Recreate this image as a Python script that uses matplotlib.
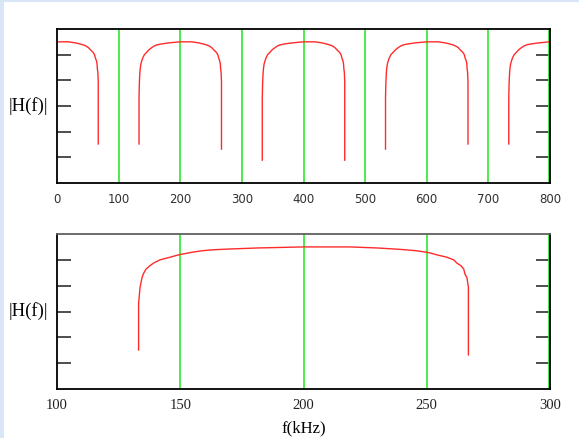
import matplotlib
matplotlib.use("Agg")
import matplotlib.pyplot as plt
import matplotlib.transforms as mtransforms
from matplotlib.patches import Rectangle

# ---------------------------------------------------------------------------
# Data
# ---------------------------------------------------------------------------
# zoomed passband around 200 kHz (bottom panel)
f_band = [133.1, 133.1, 133.7, 134.5, 135.0, 136.1, 137.7, 139.1, 141.8, 145.8,
          149.2, 154.0, 158.7, 163.3, 170.2, 181.7, 200.0, 218.6, 229.8, 236.7,
          241.3, 246.0, 250.8, 254.2, 258.2, 260.9, 262.3, 263.9, 265.0, 265.5,
          266.3, 266.9, 266.9]
h_band = [1.51, 3.32, 3.94, 4.31, 4.45, 4.64, 4.77, 4.87, 5.00, 5.10,
          5.19, 5.28, 5.35, 5.39, 5.42, 5.46, 5.50, 5.50, 5.46, 5.42,
          5.39, 5.35, 5.28, 5.19, 5.10, 5.00, 4.87, 4.77, 4.64, 4.45,
          4.31, 3.94, 1.32]

# wide view: passbands repeat every 200 kHz, notch depths differ per edge
band_centers = [0, 200, 400, 600, 800]
band_left_end = [1.52, 1.52, 0.89, 1.32, 1.52]
band_right_end = [1.52, 1.32, 0.89, 1.52, 1.52]

top_xticks = [0, 100, 200, 300, 400, 500, 600, 700, 800]
top_grid = [100, 200, 300, 400, 500, 600, 700, 800]
bot_xticks = [100, 150, 200, 250, 300]
bot_grid = [150, 200, 250, 300]
y_ticks = [1, 2, 3, 4, 5]

RED = "#ff2b2b"
GREEN = "#2ee82e"

fig = plt.figure(figsize=(5.79, 4.38), dpi=100)
fig.patch.set_facecolor("white")
# light blue window edge (left and top)
fig.patches.append(Rectangle((0, 0), 4 / 579, 1, transform=fig.transFigure,
                             facecolor="#d9e6f7", edgecolor="none", zorder=0))
fig.patches.append(Rectangle((0, 1 - 2 / 438), 1, 2 / 438, transform=fig.transFigure,
                             facecolor="#d9e6f7", edgecolor="none", zorder=0))

ax1 = fig.add_axes([57 / 579, 1 - 183 / 438, 493 / 579, 154 / 438])
ax2 = fig.add_axes([57 / 579, 1 - 389 / 438, 493 / 579, 155 / 438])

center0 = f_band[16]
for c, lo, hi in zip(band_centers, band_left_end, band_right_end):
    xs = [f - center0 + c for f in f_band]
    ys = [lo] + h_band[1:-1] + [hi]
    ax1.plot(xs, ys, color=RED, lw=1.0, zorder=3)
ax2.plot(f_band, h_band, color=RED, lw=1.0, zorder=3)

for ax, grid in [(ax1, top_grid), (ax2, bot_grid)]:
    for x in grid:
        ln = ax.axvline(x, color=GREEN, lw=1.2, zorder=2)
    # the last grid line sits on the right border; nudge it inside like the original
    ln.set_transform(ln.get_transform() + mtransforms.Affine2D().translate(-1.5, 0))

for ax, lim, ticks in [(ax1, (0, 800), top_xticks), (ax2, (100, 300), bot_xticks)]:
    ax.set_xlim(*lim)
    ax.set_ylim(0, 6)
    ax.set_xticks(ticks)
    ax.set_yticks(y_ticks)
    ax.set_yticklabels([])
    ax.tick_params(axis="x", length=0, pad=7)
    ax.tick_params(axis="y", direction="in", length=10, width=1.2,
                   color="#303030", left=True, right=True)
    for s in ax.spines.values():
        s.set_linewidth(1.3)
        s.set_color("black")
        s.set_zorder(5)
    ax.text(-0.058, 0.5, "|H(f)|", transform=ax.transAxes, ha="center",
            va="center", fontsize=13.5, family="Liberation Serif")

ax2.spines["top"].set_color("#606060")

for lab in ax1.get_xticklabels():
    lab.set_fontfamily("DejaVu Sans")
    lab.set_fontsize(8.5)
    lab.set_color("#303030")
for lab in ax2.get_xticklabels():
    lab.set_fontfamily("Liberation Serif")
    lab.set_fontsize(10.5)
    lab.set_color("#202020")

ax2.set_xlabel("f(kHz)", fontsize=12, family="Liberation Serif", labelpad=6)

fig.savefig("out.png", dpi=100)
